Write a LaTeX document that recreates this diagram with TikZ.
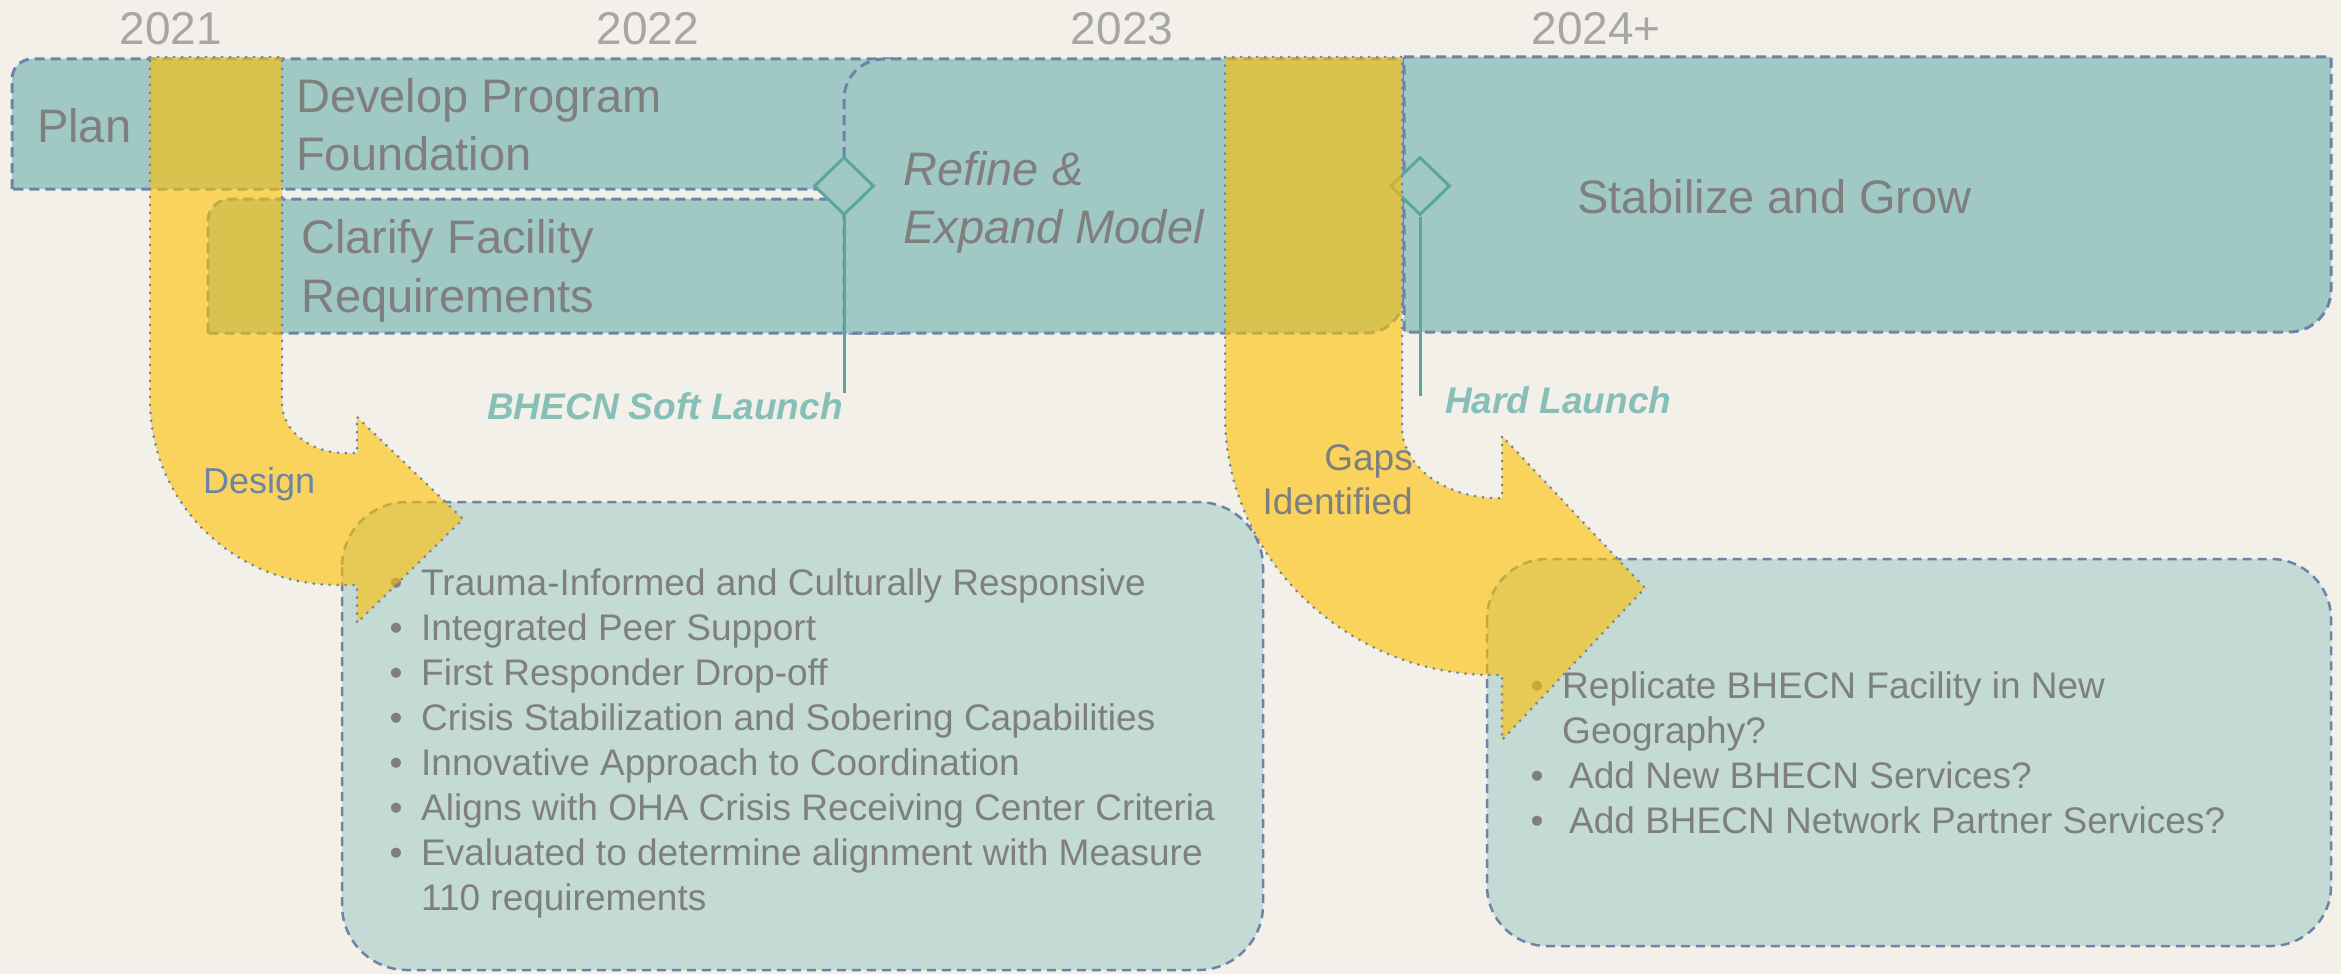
\documentclass[tikz,border=0pt]{standalone}
\usepackage{fontspec}
\setmainfont{Liberation Sans}
\usetikzlibrary{shapes.geometric}

\definecolor{bgc}{HTML}{F2F0E8}
\definecolor{barfill}{HTML}{A0C8C4}
\definecolor{notefill}{HTML}{C4DAD5}
\definecolor{edgec}{HTML}{6E83A8}
\definecolor{txtgray}{HTML}{7F7F7F}
\definecolor{yeargray}{HTML}{A6A6A6}
\definecolor{launchc}{HTML}{86BFB7}
\definecolor{tealline}{HTML}{5BA69B}
\definecolor{yel}{HTML}{FFC000}

\begin{document}
\begin{tikzpicture}[x=1pt,y=-1pt,
  bartext/.style={anchor=base west, inner sep=0pt, text=txtgray, font=\fontsize{47}{56}\selectfont},
  yeartext/.style={anchor=base, inner sep=0pt, text=yeargray, font=\fontsize{46}{55}\selectfont},
  itemtext/.style={anchor=base west, inner sep=0pt, text=txtgray, font=\fontsize{37}{45}\selectfont},
  bulletmark/.style={anchor=base, inner sep=0pt, text=txtgray, font=\fontsize{37}{45}\selectfont},
  launchtext/.style={anchor=base west, inner sep=0pt, text=launchc, font=\fontsize{37}{45}\selectfont\bfseries\itshape},
  milestone/.style={diamond, draw=tealline, line width=3pt, fill=barfill, minimum width=60pt, minimum height=58pt, inner sep=0pt},
  barbox/.style={fill=barfill, draw=edgec, line width=3pt, dash pattern=on 10pt off 6pt},
  notebox/.style={fill=notefill, draw=edgec, line width=2.5pt, dash pattern=on 9pt off 6pt},
  flowarrow/.style={fill=yel, fill opacity=0.6, draw=edgec, line width=3pt, dash pattern=on 0pt off 8pt, line cap=round},
  launchline/.style={draw=tealline, line width=3pt}
]
% background and page frame
\fill[bgc] (0,0) rectangle (2341,974);
\useasboundingbox (0,0) rectangle (2341,974);

% year labels
\node[yeartext] (y2021) at (171,45) {2021};
\node[yeartext] (y2022) at (648,45) {2022};
\node[yeartext] (y2023) at (1122,45) {2023};
\node[yeartext] (y2024) at (1596,45) {2024+};

% phase bars
\path[barbox] (12,189) -- (12,79) .. controls (12,68) and (21,59) .. (32,59) -- (900,59) -- (900,189) -- cycle;
\path[barbox] (208,333) -- (208,220) .. controls (208,208.4) and (219.4,199) .. (229,199) -- (900,199) -- (900,333) -- cycle;
\path[barbox] (844,333) -- (844,99) .. controls (844,77) and (862,59) .. (884,59) -- (1404,59) -- (1404,295) .. controls (1404,316) and (1387,333) .. (1366,333) -- cycle;
\path[barbox] (1404,57) -- (2331,57) -- (2331,290) .. controls (2331,313) and (2312,332) .. (2289,332) -- (1404,332) -- cycle;

\node[bartext] (plan) at (37,142) {Plan};
\node[bartext] (dev1) at (296,112) {Develop Program};
\node[bartext] (dev2) at (296,170) {Foundation};
\node[bartext] (cla1) at (301,253) {Clarify Facility};
\node[bartext] (cla2) at (301,312) {Requirements};
\node[bartext, font=\fontsize{47}{56}\selectfont\itshape] (ref1) at (903,185) {Refine \&};
\node[bartext, font=\fontsize{47}{56}\selectfont\itshape] (ref2) at (903,243) {Expand Model};
\node[bartext] (stab) at (1577,213) {Stabilize and Grow};

% milestones
\node[milestone] (soft) at (844,186) {};
\node[milestone] (hard) at (1420,186) {};
\coordinate (softend) at (844,393);
\coordinate (hardend) at (1420,396);
\draw[launchline] (soft.south) -- (softend);
\draw[launchline] (hard.south) -- (hardend);
\node[launchtext] (softlbl) at (487,419) {BHECN Soft Launch};
\node[launchtext] (hardlbl) at (1445,413) {Hard Launch};

% detail boxes
\path[notebox, rounded corners=65pt] (342,502) rectangle (1263,970);
\path[notebox, rounded corners=60pt] (1487,559) rectangle (2331,946);

\node[bulletmark] (b1) at (396,595) {•};
\node[itemtext] (t1) at (421,595) {Trauma-Informed and Culturally Responsive};
\node[bulletmark] (b2) at (396,640) {•};
\node[itemtext] (t2) at (421,640) {Integrated Peer Support};
\node[bulletmark] (b3) at (396,685) {•};
\node[itemtext] (t3) at (421,685) {First Responder Drop-off};
\node[bulletmark] (b4) at (396,730) {•};
\node[itemtext] (t4) at (421,730) {Crisis Stabilization and Sobering Capabilities};
\node[bulletmark] (b5) at (396,775) {•};
\node[itemtext] (t5) at (421,775) {Innovative Approach to Coordination};
\node[bulletmark] (b6) at (396,820) {•};
\node[itemtext] (t6) at (421,820) {Aligns with OHA Crisis Receiving Center Criteria};
\node[bulletmark] (b7) at (396,865) {•};
\node[itemtext] (t7) at (421,865) {Evaluated to determine alignment with Measure};
\node[itemtext] (t8) at (421,910) {110 requirements};

\node[bulletmark] (r1) at (1537,698) {•};
\node[itemtext] (s1) at (1562,698) {Replicate BHECN Facility in New};
\node[itemtext] (s2) at (1562,743) {Geography?};
\node[bulletmark] (r3) at (1537,788) {•};
\node[itemtext] (s3) at (1569,788) {Add New BHECN Services?};
\node[bulletmark] (r4) at (1537,833) {•};
\node[itemtext] (s4) at (1569,833) {Add BHECN Network Partner Services?};

% transition arrows
\path[flowarrow] (150,57) -- (282,57) -- (282,403) .. controls (282,430.6) and (310.2,453) .. (345,453)
  -- (357,453) -- (357,417) -- (463,519) -- (357,623) -- (357,585) -- (337,585)
  .. controls (233.7,585) and (150,502.2) .. (150,400) -- cycle;
\path[flowarrow] (1225,57) -- (1402,57) -- (1402,427) .. controls (1402,466) and (1444.5,498) .. (1497,498)
  -- (1502,498) -- (1502,436) -- (1645,588) -- (1502,740) -- (1502,675) -- (1493,675)
  .. controls (1345,675) and (1225,556) .. (1225,415) -- cycle;

\node[anchor=base west, inner sep=0pt, text=edgec, font=\fontsize{36}{44}\selectfont] (design) at (203,493) {Design};
\node[anchor=base east, inner sep=0pt, text=txtgray, font=\fontsize{37}{44}\selectfont] (gaps1) at (1413,470) {Gaps};
\node[anchor=base east, inner sep=0pt, text=txtgray, font=\fontsize{37}{44}\selectfont] (gaps2) at (1413,514) {Identified};
\end{tikzpicture}
\end{document}
